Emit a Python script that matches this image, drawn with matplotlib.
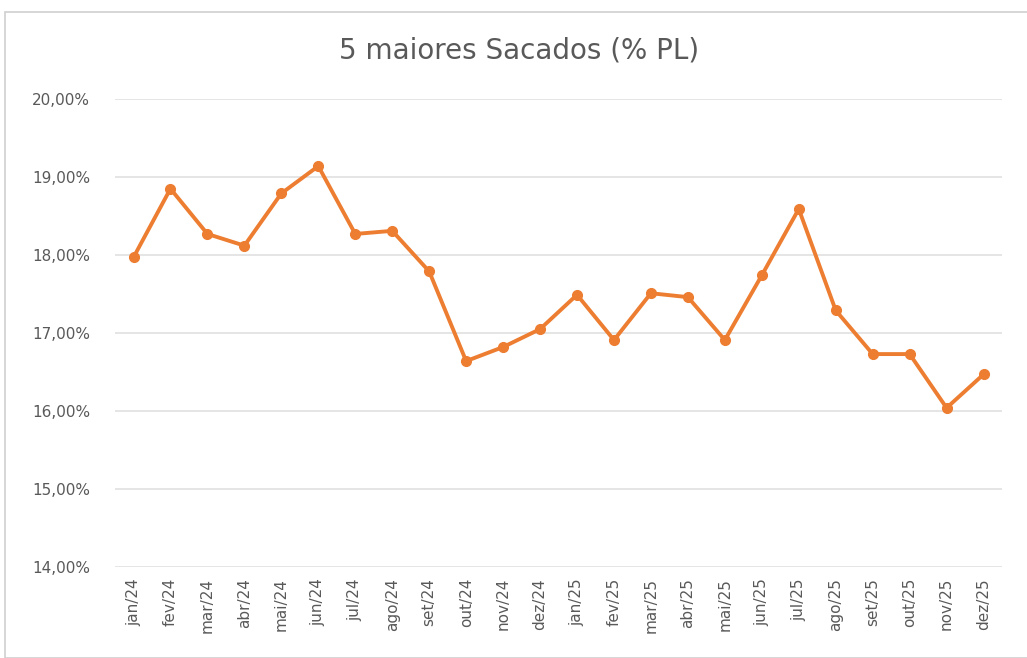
import matplotlib.pyplot as plt
from matplotlib.patches import Rectangle

meses = ['jan/24', 'fev/24', 'mar/24', 'abr/24', 'mai/24', 'jun/24', 'jul/24', 'ago/24',
         'set/24', 'out/24', 'nov/24', 'dez/24', 'jan/25', 'fev/25', 'mar/25', 'abr/25',
         'mai/25', 'jun/25', 'jul/25', 'ago/25', 'set/25', 'out/25', 'nov/25', 'dez/25']
valores = [17.97, 18.85, 18.27, 18.12, 18.79, 19.14, 18.27, 18.31,
           17.79, 16.64, 16.82, 17.05, 17.49, 16.91, 17.51, 17.46,
           16.91, 17.74, 18.59, 17.29, 16.73, 16.73, 16.04, 16.47]
yticks = [14, 15, 16, 17, 18, 19, 20]

cinza = '#595959'
laranja = '#ED7D31'

fig = plt.figure(figsize=(10.27, 6.58), dpi=100)
fig.patches.append(Rectangle((5 / 1027, 0), 1.0, 1 - 12 / 658, transform=fig.transFigure,
                             facecolor='none', edgecolor='#D0D0D0', linewidth=1.2))
ax = fig.add_axes([0.112, 0.1383, 0.8637, 0.7112])
ax.patch.set_alpha(0)

x = range(len(meses))
ax.plot(x, valores, color=laranja, linewidth=2.8, marker='o', markersize=7, zorder=3)

ax.set_xlim(-0.5, len(meses) - 0.5)
ax.set_ylim(14, 20)
ax.set_yticks(yticks)
ax.set_yticklabels([f'{v:.2f}%'.replace('.', ',') for v in yticks])
ax.set_xticks(list(x))
ax.set_xticklabels(meses, rotation=90)
ax.tick_params(length=0, colors=cinza, labelsize=11)
ax.tick_params(axis='y', pad=18)
ax.tick_params(axis='x', pad=8)
ax.grid(axis='y', color='#E0E0E0', linewidth=1.2)
ax.set_axisbelow(True)
for s in ax.spines.values():
    s.set_visible(False)

fig.text(0.505, 1 - 50 / 658, '5 maiores Sacados (% PL)', ha='center', va='center',
         fontsize=20, color=cinza)

fig.savefig('out.png', dpi=100)
